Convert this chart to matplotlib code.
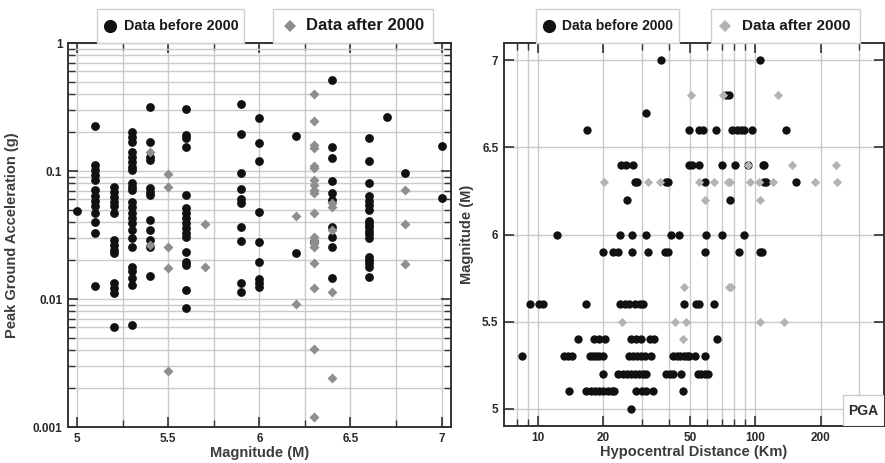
import numpy as np
import matplotlib
matplotlib.use("Agg")
import matplotlib.pyplot as plt
from matplotlib.patches import Rectangle
from matplotlib.lines import Line2D
from matplotlib.ticker import LogLocator, NullFormatter, FixedLocator

plt.rcParams['font.family'] = ['Liberation Sans', 'DejaVu Sans']
plt.rcParams['font.weight'] = 'bold'
plt.rcParams['axes.labelweight'] = 'bold'

# PGA (g) by magnitude, records before / after 2000
pga_before = {
    5.0: [0.049],
    5.1: [0.225, 0.111, 0.102, 0.093, 0.085, 0.071, 0.064, 0.058, 0.053, 0.047, 0.040, 0.033, 0.0126],
    5.2: [0.0755, 0.069, 0.063, 0.0576, 0.053, 0.0467, 0.0289, 0.0264, 0.0241, 0.0227, 0.0133, 0.0121,
          0.0111, 0.006],
    5.3: [0.203, 0.185, 0.169, 0.142, 0.129, 0.118, 0.108, 0.102, 0.080, 0.0755, 0.071, 0.0576, 0.0527,
          0.0467, 0.0427, 0.039, 0.0346, 0.0298, 0.0256, 0.0179, 0.0164, 0.0145, 0.0129, 0.0063],
    5.4: [0.318, 0.169, 0.129, 0.122, 0.073, 0.069, 0.065, 0.0414, 0.0346, 0.0289, 0.0256, 0.0151],
    5.6: [0.303, 0.191, 0.180, 0.155, 0.065, 0.051, 0.0467, 0.0427, 0.039, 0.0357, 0.0326, 0.0307,
          0.0234, 0.0196, 0.0184, 0.0118, 0.0085],
    5.9: [0.334, 0.195, 0.097, 0.072, 0.060, 0.0566, 0.0363, 0.0286, 0.0133, 0.0114],
    6.0: [0.261, 0.166, 0.119, 0.0475, 0.0277, 0.0196, 0.0143, 0.0133, 0.0125],
    6.2: [0.188, 0.023],
    6.3: [0.028],
    6.4: [0.514, 0.155, 0.126, 0.084, 0.067, 0.059, 0.0367, 0.0307, 0.0253, 0.0145],
    6.6: [0.18, 0.120, 0.081, 0.0638, 0.0586, 0.054, 0.0496, 0.0409, 0.0385, 0.0363, 0.0342, 0.0322,
          0.0298, 0.0214, 0.0202, 0.019, 0.0179, 0.0148],
    6.7: [0.263],
    6.8: [0.097],
    7.0: [0.158, 0.062],
}
pga_after = {
    5.4: [0.142, 0.0264],
    5.5: [0.094, 0.0755, 0.0256, 0.0174, 0.00275],
    5.7: [0.0385, 0.0179],
    6.2: [0.0445, 0.0091],
    6.3: [0.397, 0.247, 0.160, 0.150, 0.109, 0.105, 0.085, 0.078, 0.071, 0.067, 0.047, 0.0307, 0.0289,
          0.0272, 0.0256, 0.0192, 0.0121, 0.00404, 0.0012],
    6.4: [0.056, 0.0526, 0.0346, 0.0114, 0.0024],
    6.8: [0.071, 0.0385, 0.0187],
}

# hypocentral distance (km) by magnitude
dist_before = {
    5.0: [26.9],
    5.1: [13.9, 16.7, 17.5, 18.3, 19.1, 20.0, 21.0, 22.0, 22.5, 28.4, 30.0, 31.5, 33.8, 46.5],
    5.2: [20.0, 23.5, 24.6, 25.7, 26.8, 28.0, 29.2, 30.4, 31.5, 38.9, 40.5, 42.0, 45.6, 54.5, 56.5,
          58.5, 60.6],
    5.3: [8.5, 13.2, 13.8, 14.3, 17.4, 18.0, 18.6, 19.2, 19.9, 26.4, 27.5, 28.7, 29.9, 31.2, 33.2,
          41.8, 43.5, 45.2, 47.0, 48.5, 49.8, 53.0, 58.5],
    5.4: [15.3, 18.2, 19.2, 20.3, 26.7, 28.2, 29.7, 32.7, 34.4, 66.3],
    5.6: [9.26, 10.1, 10.6, 16.6, 23.8, 25.1, 26.4, 27.9, 29.4, 30.4, 46.9, 53.5, 55.3, 64.9],
    5.9: [19.9, 22.1, 23.3, 27.2, 32.1, 38.3, 39.7, 59.0, 83.8, 105.5, 107.5],
    6.0: [12.3, 23.8, 27.2, 31.3, 41.0, 44.5, 59.4, 70.3, 88.3],
    6.2: [25.8, 76.5],
    6.3: [27.9, 28.5, 38.9, 39.6, 59.0, 110.0, 112.0, 154.0],
    6.4: [24.2, 25.5, 27.4, 49.8, 51.0, 55.2, 70.3, 80.3, 92.6, 108.0, 110.0],
    6.6: [16.8, 49.8, 54.9, 57.3, 66.1, 78.2, 82.1, 85.5, 89.1, 96.7, 138.0],
    6.7: [31.3],
    6.8: [73.4, 75.5],
    7.0: [36.9, 104.7],
}
dist_after = {
    5.4: [46.7],
    5.5: [24.5, 42.8, 48.1, 105.5, 135.0],
    5.7: [46.8, 76.0, 77.5],
    6.2: [58.5, 105.0],
    6.3: [20.1, 32.1, 36.3, 55.3, 64.9, 74.7, 76.5, 94.6, 104.0, 120.0, 187.0, 236.0],
    6.4: [92.6, 148.0, 234.0],
    6.8: [50.7, 70.8, 126.5],
}


def flatten(d):
    m = [k for k, v in d.items() for _ in v]
    vals = [x for v in d.values() for x in v]
    return np.array(m), np.array(vals)


W, H = 885, 463
fig = plt.figure(figsize=(W / 100, H / 100), dpi=100)


def fx(x):
    return x / W


def fy(y):
    return 1 - y / H


grid_c = '#cbcbcb'
frame_c = '#333333'
text_c = '#2a2a2a'
label_c = '#3c3c3c'

# ---------- left: PGA vs magnitude
ax1 = fig.add_axes([fx(68), fy(427), fx(450.7 - 68), (427 - 43) / H])
mb, pb = flatten(pga_before)
ma, pa = flatten(pga_after)
ax1.scatter(mb, pb, s=40, c='#111111', marker='o', linewidths=0, zorder=3)
ax1.scatter(ma, pa, s=26, c='#8e8e8e', marker='D', linewidths=0, zorder=4)
ax1.set_yscale('log')
ax1.set_xlim(4.95, 7.05)
ax1.set_ylim(0.001, 1)
ax1.set_xticks([5, 5.5, 6, 6.5, 7])
ax1.set_xticklabels(['5', '5.5', '6', '6.5', '7'])
ax1.xaxis.set_minor_locator(FixedLocator([5.25, 5.75, 6.25, 6.75]))
ax1.set_yticks([0.001, 0.01, 0.1, 1])
ax1.set_yticklabels(['0.001', '0.01', '0.1', '1'])
ax1.yaxis.set_minor_locator(LogLocator(base=10, subs=np.arange(2, 10)))
ax1.yaxis.set_minor_formatter(NullFormatter())
ax1.grid(True, which='both', color=grid_c, lw=1, zorder=0)
ax1.set_xlabel('Magnitude (M)', fontsize=10.5, color=label_c)
ax1.set_ylabel('Peak Ground Acceleration (g)', fontsize=10.5, color=label_c)
ax1.xaxis.set_label_coords(0.5, -0.05)
ax1.yaxis.set_label_coords(-0.127, 0.5)

# ---------- right: magnitude vs distance
ax2 = fig.add_axes([fx(504), fy(426), fx(884 - 504), (426 - 43) / H])
mb2, db = flatten(dist_before)
ma2, da = flatten(dist_after)
ax2.scatter(db, mb2, s=36, c='#111111', marker='o', linewidths=0, zorder=3)
ax2.scatter(da, ma2, s=22, c='#b3b3b3', marker='D', linewidths=0, zorder=4)
ax2.set_xscale('log')
ax2.set_xlim(7, 390)
ax2.set_ylim(4.9, 7.1)
ax2.set_xticks([10, 20, 50, 100, 200])
ax2.set_xticklabels(['10', '20', '50', '100', '200'])
ax2.xaxis.set_minor_locator(FixedLocator([8, 9, 30, 40, 60, 70, 80, 90, 300]))
ax2.xaxis.set_minor_formatter(NullFormatter())
ax2.set_yticks([5, 5.5, 6, 6.5, 7])
ax2.set_yticklabels(['5', '5.5', '6', '6.5', '7'])
ax2.grid(True, which='both', color=grid_c, lw=1, zorder=0)
ax2.set_xlabel('Hypocentral Distance (Km)', fontsize=10.5, color=label_c)
ax2.set_ylabel('Magnitude (M)', fontsize=10.5, color=label_c)
ax2.xaxis.set_label_coords(0.5, -0.05)
ax2.yaxis.set_label_coords(-0.078, 0.5)

ax2.add_patch(Rectangle((0.891, 0), 0.109, 0.081, transform=ax2.transAxes,
                        fc='white', ec='#cccccc', lw=1, zorder=5))
ax2.text(0.9455, 0.04, 'PGA', transform=ax2.transAxes, ha='center', va='center',
         fontsize=10, color=text_c, zorder=6)

for ax in (ax1, ax2):
    for sp in ax.spines.values():
        sp.set_color(frame_c)
        sp.set_linewidth(1.4)
    ax.tick_params(which='both', direction='in', top=True, right=True, colors=frame_c,
                   labelcolor=text_c, labelsize=8.5)
    ax.tick_params(which='major', length=7, width=1.2, pad=4)
    ax.tick_params(which='minor', length=5, width=1)
    ax.set_axisbelow(True)

# ---------- legend boxes above each panel
legend_boxes = [
    # x0, x1, marker x, text x, marker, colour, label, font size
    (97, 244, 110, 124, 'o', '#111111', 'Data before 2000', 10.3),
    (273, 433, 290, 306, 'D', '#8e8e8e', 'Data after 2000', 12),
    (536, 679, 549, 562, 'o', '#111111', 'Data before 2000', 10),
    (711, 860, 725, 742, 'D', '#b3b3b3', 'Data after 2000', 11),
]
for x0, x1, mx, tx, mk, col, lab, fs in legend_boxes:
    fig.add_artist(Rectangle((fx(x0), fy(42.5)), fx(x1 - x0), 34 / H, transform=fig.transFigure,
                             fc='white', ec='#cfcfcf', lw=1))
    fig.add_artist(Line2D([fx(mx)], [fy(26)], marker=mk, color=col, ls='none',
                          markersize=9.5 if mk == 'o' else 6.5, markeredgewidth=0,
                          transform=fig.transFigure))
    fig.text(fx(tx), fy(26), lab, ha='left', va='center', fontsize=fs, color='#1a1a1a')

fig.savefig('out.png', dpi=100)
